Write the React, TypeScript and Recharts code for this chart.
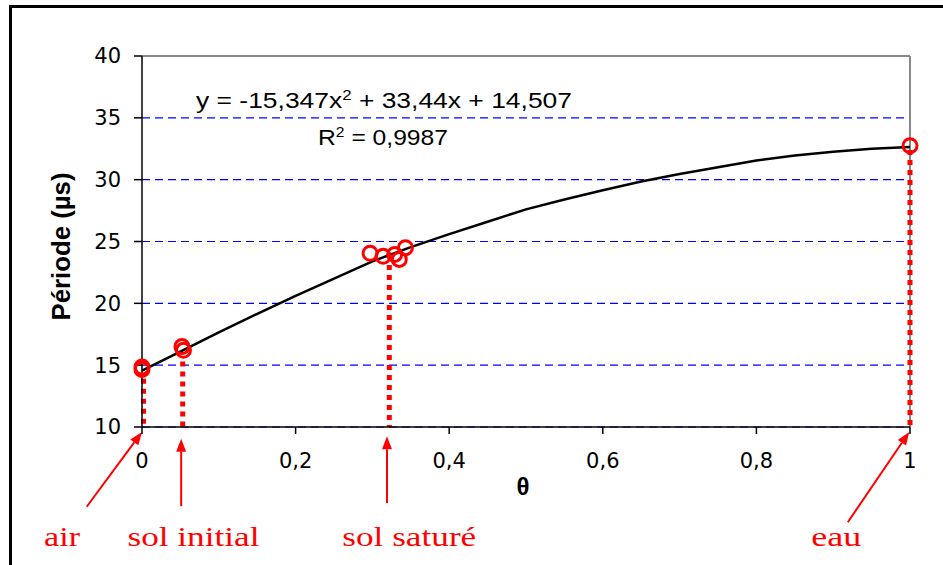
import React from 'react';
import {
  ComposedChart,
  Line,
  Scatter,
  XAxis,
  YAxis,
  CartesianGrid,
  ReferenceLine,
  ReferenceDot,
  Label,
  Customized,
} from 'recharts';

// courbe d'étalonnage
const theta = [0, 0.05, 0.1, 0.15, 0.2, 0.25, 0.3, 0.35, 0.4, 0.45, 0.5, 0.55, 0.6, 0.65, 0.7, 0.75, 0.8, 0.85, 0.9, 0.95, 1];
const periode = [14.55, 16.1, 17.65, 19.15, 20.6, 22.0, 23.4, 24.55, 25.6, 26.6, 27.6, 28.4, 29.15, 29.85, 30.45, 31.0, 31.55, 31.95, 32.25, 32.5, 32.65];

// mesures (cercles rouges)
const mesureTheta = [0, 0, 0.052, 0.054, 0.297, 0.314, 0.329, 0.335, 0.343, 1];
const mesurePeriode = [14.85, 14.65, 16.5, 16.2, 24.05, 23.8, 23.95, 23.55, 24.5, 32.75];

// lignes pointillées verticales
const dropTheta = [0.002, 0.053, 0.322, 1];
const dropTop = [13.9, 15.3, 23.1, 32.4];

// flèches + étiquettes sous l'axe
const milieux = ['air', 'sol initial', 'sol saturé', 'eau'];
const arrowTailTheta = [-0.072, 0.051, 0.319, 0.919];
const arrowTailP = [3.55, 3.6, 3.85, 2.3];
const arrowTipTheta = [0, 0.051, 0.319, 0.999];
const arrowTipP = [9.6, 9.05, 9.25, 9.6];
const labelTheta = [-0.104, 0.067, 0.348, 0.904];
const labelP = 0.4;
const labelWidths = [36, 132, 134, 50];

const xTicks = [0, 0.2, 0.4, 0.6, 0.8, 1];
const yTicks = [10, 15, 20, 25, 30, 35, 40];

const RED = '#FF0000';

const curve = theta.map((x, i) => ({ x, y: periode[i] }));
const mesures = mesureTheta.map((x, i) => ({ x, y: mesurePeriode[i] }));

const Arrow = (props: any) => {
  const { x1, y1, x2, y2 } = props;
  const ang = Math.atan2(y2 - y1, x2 - x1);
  const len = 13;
  const w = 5;
  const bx = x2 - len * Math.cos(ang);
  const by = y2 - len * Math.sin(ang);
  const px = -Math.sin(ang) * w;
  const py = Math.cos(ang) * w;
  return (
    <g>
      <line x1={x1} y1={y1} x2={bx} y2={by} stroke={RED} strokeWidth={2} />
      <polygon points={`${x2},${y2} ${bx + px},${by + py} ${bx - px},${by - py}`} fill={RED} />
    </g>
  );
};

const Equation = () => (
  <g fontFamily="Liberation Sans, Arial, sans-serif" fill="#000">
    <text x={196} y={108} fontSize={22} textLength={376} lengthAdjust="spacingAndGlyphs">
      y = -15,347x<tspan dy={-8} fontSize={14}>2</tspan>
      <tspan dy={8}> + 33,44x + 14,507</tspan>
    </text>
    <text x={318} y={145} fontSize={22} textLength={130} lengthAdjust="spacingAndGlyphs">
      R<tspan dy={-8} fontSize={14}>2</tspan>
      <tspan dy={8}> = 0,9987</tspan>
    </text>
  </g>
);

export default function App() {
  return (
    <div style={{ position: 'absolute', left: 0, top: 0, width: 943, height: 565, overflow: 'hidden', background: '#fff' }}>
      <div
        style={{
          position: 'absolute',
          left: 9,
          top: 5,
          width: 1000,
          height: 1000,
          border: '3px solid #000',
          boxSizing: 'border-box',
        }}
      />
      <div style={{ position: 'absolute', left: 0, top: 0 }}>
        <ComposedChart width={943} height={565} margin={{ top: 56, right: 33, bottom: 98, left: 62 }}>
          <CartesianGrid vertical={false} stroke="#0000FF" strokeWidth={1.2} strokeDasharray="8 5" />
          <XAxis
            dataKey="x"
            type="number"
            domain={[0, 1]}
            ticks={xTicks}
            tickFormatter={(v: number) => String(v).replace('.', ',')}
            height={40}
            tickSize={7}
            tickMargin={19}
            stroke="#000"
            strokeWidth={1.5}
            tick={{ fontSize: 21, fill: '#000', fontFamily: 'DejaVu Sans' }}
          >
            <Label
              content={(p: any) => (
                <text
                  x={p.viewBox.x + p.viewBox.width / 2 - 3}
                  y={495}
                  textAnchor="middle"
                  fontFamily="Liberation Sans, Arial"
                  fontWeight="bold"
                  fontSize={24}
                >
                  θ
                </text>
              )}
            />
          </XAxis>
          <YAxis
            type="number"
            domain={[10, 40]}
            ticks={yTicks}
            width={80}
            tickSize={8}
            tickMargin={13}
            stroke="#000"
            strokeWidth={1.5}
            tick={{ fontSize: 21, fill: '#000', fontFamily: 'DejaVu Sans' }}
          >
            <Label
              content={(p: any) => {
                const cx = p.viewBox.x - 1;
                const cy = p.viewBox.y + p.viewBox.height / 2 + 5;
                return (
                  <text
                    x={cx}
                    y={cy}
                    transform={`rotate(-90 ${cx} ${cy})`}
                    textAnchor="middle"
                    dominantBaseline="central"
                    fontFamily="Liberation Sans, Arial"
                    fontWeight="bold"
                    fontSize={25}
                    textLength={148}
                    lengthAdjust="spacingAndGlyphs"
                  >
                    Période (µs)
                  </text>
                );
              }}
            />
          </YAxis>
          <ReferenceLine y={40} stroke="#888" strokeWidth={2} />
          <ReferenceLine x={1} stroke="#888" strokeWidth={2} />
          {dropTheta.map((x, i) => (
            <Line
              key={'drop' + i}
              data={[{ x, y: dropTop[i] }, { x, y: 10 }]}
              dataKey="y"
              stroke={RED}
              strokeWidth={5}
              strokeDasharray="5 5"
              dot={false}
              isAnimationActive={false}
            />
          ))}
          <Line
            data={curve}
            dataKey="y"
            type="linear"
            stroke="#000"
            strokeWidth={2.5}
            dot={false}
            isAnimationActive={false}
          />
          <Scatter
            data={mesures}
            dataKey="y"
            isAnimationActive={false}
            shape={(p: any) => <circle cx={p.cx} cy={p.cy} r={7} fill="none" stroke={RED} strokeWidth={3} />}
          />
          {milieux.map((m, i) => (
            <ReferenceLine
              key={'arrow' + i}
              ifOverflow="visible"
              segment={[
                { x: arrowTailTheta[i], y: arrowTailP[i] },
                { x: arrowTipTheta[i], y: arrowTipP[i] },
              ]}
              shape={Arrow}
            />
          ))}
          {milieux.map((m, i) => (
            <ReferenceDot
              key={'lab' + i}
              x={labelTheta[i]}
              y={labelP}
              r={1}
              ifOverflow="visible"
              shape={(p: any) => (
                <text
                  x={p.cx}
                  y={p.cy}
                  textAnchor="middle"
                  fill={RED}
                  fontFamily="Liberation Serif, Times New Roman, serif"
                  fontSize={28}
                  textLength={labelWidths[i]}
                  lengthAdjust="spacingAndGlyphs"
                >
                  {m}
                </text>
              )}
            />
          ))}
          <Customized component={Equation} />
        </ComposedChart>
      </div>
    </div>
  );
}
